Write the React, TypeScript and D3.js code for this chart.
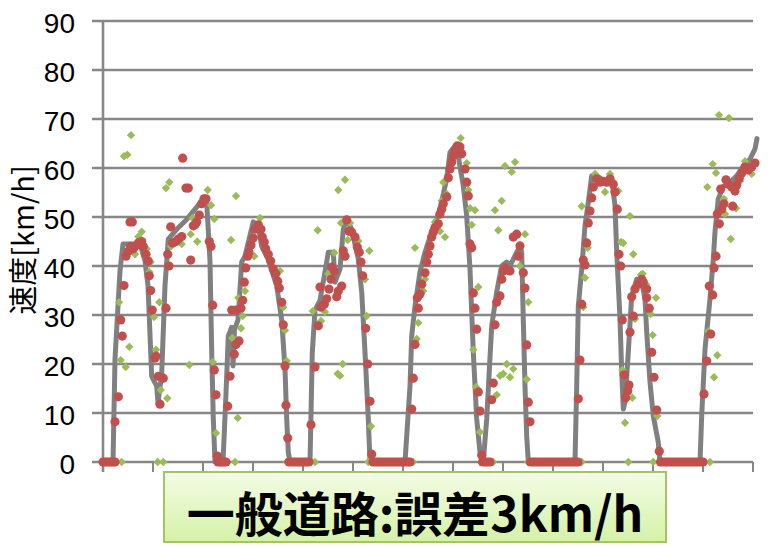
import React from 'react';
import * as d3 from 'd3';

// ---------------- data ----------------
const yTicks = [0, 10, 20, 30, 40, 50, 60, 70, 80, 90];
const xTicks = [0, 50, 100, 150, 200, 250, 300, 350, 400, 450, 500, 550, 600, 650];
const yAxisTitle = '速度[km/h]';
const captionText = '一般道路:誤差3km/h';

// true speed (gray line): [time, km/h]
const truthSpeed: [number, number][] = [
  [0, 0], [10, 0], [12, 21], [17, 39], [20, 44.5], [37, 44.5], [42, 41], [45, 36], [48.7, 17.5],
  [53.7, 15.5], [55, 12], [58.7, 18], [62, 36], [65.3, 45.5], [73.7, 47.5], [83.7, 49.5], [93.7, 52],
  [100, 53.7], [103.7, 53], [107, 41], [108.7, 22.5], [110.3, 8.8], [112, 0], [120, 0], [123, 14],
  [125.3, 25.7], [128.7, 27.5], [130, 19.6], [131.5, 27], [135, 29], [138.7, 40.8], [142, 42],
  [150.3, 49], [155.3, 48], [158.7, 44], [165, 41.4], [173.7, 36], [178.7, 29], [182, 19], [183.7, 8.8],
  [185.3, 2], [187, 0], [207, 0], [209.3, 22.4], [212, 31], [217, 33], [222, 38.8], [225.3, 42.8],
  [230.3, 42.8], [232, 36.7], [237, 39.4], [240.3, 47.5], [243.7, 49.6], [248.7, 47.5], [255.3, 41.4],
  [258.7, 34.7], [262, 22.4], [265.3, 8.8], [267, 0], [302, 0], [307, 15.5], [308.7, 25.7], [312, 31.8],
  [317, 38.8], [322, 42.8], [328.7, 47], [337, 51.6], [343.7, 57.8], [347, 63.2], [352, 64.5],
  [355.3, 62.4], [360.3, 56.3], [363.7, 50.2], [367, 39.4], [370.3, 22.4], [373.7, 8.8], [377, 2],
  [380.3, 0], [383.7, 8.8], [388.7, 27.8], [393.7, 34.7], [398.7, 40], [403.7, 40.8], [407, 40],
  [413.7, 42.8], [417, 44], [418.7, 42.8], [420.3, 29], [422, 15.5], [423.7, 5.3], [425.3, 0], [472, 0],
  [473.7, 15.5], [475.3, 31.8], [478.7, 39.4], [482, 48.2], [485.3, 53], [488.7, 58.4], [495.3, 58.2],
  [502, 57.3], [508.7, 57.8], [512, 52.3], [513.7, 42.8], [517, 29.2], [518.7, 18.4], [520.3, 10.8],
  [522, 12.2], [525.3, 22.4], [528.7, 33.9], [533.7, 37.3], [538.7, 36.7], [542, 33.3], [543.7, 26.5],
  [547, 16.3], [550.3, 9.4], [555.3, 4], [557, 0], [597, 0], [598.7, 9.4], [602, 23], [607, 33.3],
  [610.3, 41.4], [612, 47], [615.3, 53.7], [620.3, 56.3], [627, 57], [633.7, 58.4], [640.3, 60.4],
  [647, 61.8], [652, 63.9], [654, 66],
];

// estimate A (red circles): [time, km/h]
const redEstimate: [number, number][] = [
  [0, 0], [2, 0], [4, 0], [6, 0], [8, 0], [10, 0], [12, 0],
  [12, 8.2], [15.3, 13.3], [17.7, 29], [19.3, 25.7], [21, 36], [23, 42], [25.3, 43], [27.7, 44],
  [30.3, 43.5], [32, 44], [35.3, 44.7], [38.7, 45], [40.3, 44], [27, 49], [29.3, 49], [43, 42.4],
  [45.3, 41], [46.3, 38], [47.7, 35], [49.3, 31], [52, 21.2], [53, 21.6], [55.3, 17.5], [60.3, 17.1],
  [57, 11.8], [63, 31.4], [66, 40], [64.7, 42.4], [67.7, 48], [69.7, 44.7], [73, 45], [75.3, 45.5],
  [78.7, 46], [87.7, 41.2], [90.3, 48.2], [92, 48.4], [93.7, 49], [96.3, 50.4], [98.7, 52.7],
  [101, 53.7], [103, 53.7], [79.7, 62], [83, 55.9], [85.3, 55.9], [106.3, 45], [108, 44], [109.7, 32],
  [111.3, 18.8], [113, 13.7], [114.3, 1.2],
  [115, 0], [117, 0], [119, 0], [121, 0], [123, 0],
  [124.7, 11.4], [127, 17.5], [131.3, 22], [133, 24], [136, 24.7], [128.7, 31], [133, 31], [138, 31.4],
  [139.7, 33], [141.3, 36.7], [142.7, 39.6], [144.7, 42], [146, 42.8], [148, 44.3], [150.3, 45.7],
  [152, 47.5], [155.3, 48.4], [158, 47.5], [159.3, 45.9], [161.3, 44.9], [162.7, 43.5], [165.3, 42.4],
  [167.7, 41], [170.3, 39.4], [172.7, 38.4], [174.7, 36.9], [176.3, 35.5], [178.7, 32.6], [180.3, 28],
  [182, 19.6], [183, 11.6], [184.7, 4.9],
  [186, 0], [188.5, 0], [191, 0], [193.5, 0], [196, 0], [198.5, 0], [201, 0], [203.5, 0], [206, 0],
  [208, 7.6], [212, 19.4], [215.3, 27.8], [218, 31.6], [221.3, 32.2], [217, 35.7], [223.7, 33.3],
  [226, 35.3], [228, 37.3], [231.3, 39], [228.7, 39.8], [233.7, 33.7], [235.3, 34.9], [238.7, 35.9],
  [240.3, 43.1], [242, 42], [243.7, 49.4], [246, 47.1], [248.7, 46.9], [252, 45.9], [254.3, 43.9],
  [256.3, 42.8], [258, 40.8], [259.7, 38], [262.7, 27.3], [264.7, 20], [267, 12.4], [268.7, 1.6],
  [270, 0], [272.5, 0], [275, 0], [277.5, 0], [280, 0], [282.5, 0], [285, 0], [287.5, 0], [290, 0],
  [292.5, 0], [295, 0], [297.5, 0], [300, 0], [302.5, 0], [305, 0], [307, 0],
  [308.7, 10.8], [310.3, 17.1], [312, 24], [315.3, 31.4], [314.3, 33.5], [317, 34.3], [318.7, 36.3],
  [322, 38.6], [323.7, 40.8], [325.3, 42.4], [327, 44.1], [328.7, 45.9], [330.3, 46.9], [332, 47.8],
  [335.3, 48.6], [337, 50.6], [338.7, 51.6], [340.3, 52.7], [343.7, 54.1], [345.3, 58], [347, 59.8],
  [348.7, 61.2], [350.3, 62.5], [352, 63.5], [354.3, 64.5], [357, 64.3], [358.7, 62.9], [362, 59.8],
  [363.7, 57.1], [365.3, 54.3], [367, 44.5], [368.7, 43.7], [370.3, 34.5], [372, 31.4], [373.7, 27.1],
  [375.3, 14.3], [377, 10.4], [378.7, 1.4],
  [379.5, 0], [382, 0], [384.5, 0], [387, 0],
  [388.7, 12.7], [390.3, 16.1], [392, 28], [393.7, 32.6], [397, 33.9], [398.7, 37.3], [400.3, 39],
  [402, 39.6], [407, 39], [410.3, 45.9], [413.7, 46.5], [417, 44.1], [415.3, 42], [420.3, 38.6],
  [422, 35.5], [423.7, 23.9], [425.3, 12.2], [427, 8.2],
  [427.5, 0], [430, 0], [432.5, 0], [435, 0], [437.5, 0], [440, 0], [442.5, 0], [445, 0], [447.5, 0],
  [450, 0], [452.5, 0], [455, 0], [457.5, 0], [460, 0], [462.5, 0], [465, 0], [467.5, 0], [470, 0],
  [472.5, 0], [475, 0],
  [475.3, 12.9], [477, 20.8], [478.7, 32.2], [482, 40.2], [480.3, 41.2], [483.7, 44.7], [485.3, 48.8],
  [487, 51.2], [488.7, 53.9], [490.3, 56.1], [493.7, 57.8], [497, 57.1], [500.3, 57.3], [503.7, 57.1],
  [507, 57.8], [510.3, 56.7], [512, 55.1], [514.3, 51.6], [516, 42.4], [517.7, 40], [519.3, 29],
  [521.3, 17.8], [526, 15.7], [524.7, 14.5], [522.7, 13.1], [527, 26.5], [530.3, 29.8], [528.7, 33.7],
  [532, 35.3], [535.3, 36.3], [538.7, 37.3], [540.3, 36.7], [543.7, 35.3], [543.7, 33.5], [546.3, 31.4],
  [548.7, 22.4], [551, 17.3], [553.7, 10.6], [556.3, 2.2],
  [557.5, 0], [560, 0], [562.5, 0], [565, 0], [567.5, 0], [570, 0], [572.5, 0], [575, 0], [577.5, 0],
  [580, 0], [582.5, 0], [585, 0], [587.5, 0], [590, 0], [592.5, 0], [595, 0], [597.5, 0], [600, 0],
  [601, 13.9], [603.7, 20.6], [607.7, 26.1], [609.7, 34.1], [606.3, 35.9], [611, 39.6], [613, 42],
  [616.3, 48.6], [614.3, 50.6], [618.7, 51.6], [621, 52.7], [629.7, 52.2], [617.7, 55.7], [623, 57.6],
  [625.3, 56.7], [628.7, 56.1], [632, 55.3], [633.7, 56.5], [636.3, 57.9], [638.7, 59], [642, 60.2],
  [645.3, 59.6], [648.7, 60.2], [652, 61],
];

// estimate B (green diamonds): [time, km/h]
const greenEstimate: [number, number][] = [
  [28, 66.7], [21, 62.4], [24.3, 62.7], [66.3, 57.1], [63, 55.9], [104.7, 55.5], [108, 52.4],
  [111.3, 49.6], [38.7, 47], [35.3, 46], [32, 42.4], [43.7, 43.5], [47.7, 40.8], [46.3, 38.8],
  [89.7, 49.8], [87.7, 46.5], [94.3, 45], [68, 44], [78.7, 44.5], [16, 32.6], [56.3, 32.6], [51, 29.6],
  [26.3, 23.5], [17.7, 20.8], [22.7, 19.4], [53, 22.9], [57.7, 14.7], [64.3, 13], [86.3, 19.8],
  [109.7, 20.4], [113, 5.9], [18.7, 0], [54.7, 0], [60.3, 0],
  [132, 0], [133, 54.3], [128, 45.3], [157, 49.8], [148, 44], [151.3, 42], [142, 34.9], [135.3, 33.5],
  [139.7, 29.8], [138, 27.3], [129.3, 25.3], [134.7, 9], [177, 39], [180.3, 31.6], [182, 26.9],
  [183.7, 20.6], [184, 0], [212, 0], [214.7, 47.3], [209.7, 30.8], [218, 28.8], [222, 30.6],
  [225.3, 38.4], [231.3, 42.7], [235.3, 55.5], [242, 57.6], [238, 48.8], [247, 48.8], [244.7, 45.3],
  [255.3, 45.1], [266.3, 43.1], [262, 37.3], [263.7, 29.8], [234.7, 18], [237, 17.6], [239.7, 20],
  [268, 7.3], [265.3, 0], [310, 0],
  [312, 43.7], [315.3, 28.4], [313.7, 25.1], [320.3, 34.9], [322, 37.3], [332, 49], [337, 47.1],
  [342, 45.9], [340.3, 57.1], [343.7, 54.7], [338.7, 53.3], [357.7, 66.1], [363.7, 61], [365.3, 55.5],
  [367, 51.8], [372, 51.4], [368.7, 48.4], [375.3, 35.7], [370.3, 22.9], [373, 15.3], [377, 6.1],
  [387, 0], [390, 0], [393.7, 13.7], [397, 17.6], [400.3, 18], [403.7, 20], [407, 17.3], [410.3, 19],
  [398.7, 53.3], [392, 51.4], [395.3, 47.3], [402, 60.4], [408.7, 59.2], [412, 61.2],
  [423.7, 16.9], [425.3, 32.6], [417, 40], [422, 46.5], [425, 0], [478.7, 0], [525.3, 0],
  [480.3, 31.6], [482, 37.6], [484.7, 43.7], [478.7, 52.2], [502, 55.1], [515.3, 55.3], [492, 58.8],
  [507, 58.8], [527, 50.2], [518, 44.9], [520.3, 44.7], [530.3, 42.4], [519.3, 18.8], [529.3, 13.1],
  [522, 8], [532, 29.2], [538, 38.2],
  [539.7, 38.4], [543, 36.3], [553, 33.5], [547.7, 30.2], [549.7, 25.9], [554.3, 9.4], [550.3, 0],
  [607, 0], [605.3, 26.7], [614.3, 21.8], [611, 17.3], [627.7, 45.5], [622, 50.6], [633, 51.8],
  [621, 53.7], [604.3, 56.1], [613, 59], [609.7, 60.8], [616, 70.8], [626, 70.2], [642, 61.4],
  [648.7, 58.8], [637, 57.3],
];

// ---------------- chart ----------------
const W = 769;
const H = 548;
const plotLeft = 103;
const plotRight = 753;
const plotTop = 21;
const plotBottom = 462;

export default function App() {
  const x = d3.scaleLinear().domain([0, 650]).range([plotLeft, plotRight]);
  const y = d3.scaleLinear().domain([0, 90]).range([plotBottom, plotTop]);

  const line = d3
    .line<[number, number]>()
    .x((d) => x(d[0]))
    .y((d) => y(d[1]))
    .curve(d3.curveLinear);

  const grid = '#878787';
  const dr = 4.2;
  const diamond = `M0,${-dr}L${dr},0L0,${dr}L${-dr},0Z`;

  return (
    <svg
      width={W}
      height={H}
      viewBox={`0 0 ${W} ${H}`}
      style={{ position: 'absolute', left: 0, top: 0, background: '#fff' }}
    >
      <defs>
        <linearGradient id="capGrad" x1="0" y1="0" x2="0" y2="1">
          <stop offset="0%" stopColor="#f3fce6" />
          <stop offset="100%" stopColor="#d5f2a6" />
        </linearGradient>
      </defs>

      {/* horizontal gridlines */}
      {yTicks.map((t) => (
        <line
          key={'g' + t}
          x1={plotLeft - 11}
          x2={plotRight}
          y1={y(t)}
          y2={y(t)}
          stroke={grid}
          strokeWidth={2.6}
        />
      ))}
      {/* y axis line */}
      <line x1={plotLeft} x2={plotLeft} y1={plotTop} y2={plotBottom + 10} stroke={grid} strokeWidth={2.6} />
      {/* x ticks */}
      {xTicks.map((t) => (
        <line
          key={'xt' + t}
          x1={x(t)}
          x2={x(t)}
          y1={plotBottom}
          y2={plotBottom + 10}
          stroke={grid}
          strokeWidth={2}
        />
      ))}

      {/* y tick labels */}
      {yTicks.map((t) => (
        <text
          key={'yl' + t}
          x={75}
          y={y(t) + 12}
          textAnchor="end"
          fontFamily="'Liberation Sans', Arial, sans-serif"
          fontSize={28}
          fill="#000"
        >
          {t}
        </text>
      ))}

      {/* y axis title */}
      <text
        transform={`translate(34, 240) rotate(-90)`}
        textAnchor="middle"
        fontFamily="'Noto Sans CJK JP', sans-serif"
        fontSize={29}
        fill="#000"
      >
        {yAxisTitle}
      </text>

      {/* true speed line */}
      <path
        d={line(truthSpeed) || ''}
        fill="none"
        stroke="#808080"
        strokeWidth={5}
        strokeLinejoin="round"
        strokeLinecap="round"
      />

      {/* green diamonds */}
      {greenEstimate.map((d, i) => (
        <path key={'gd' + i} d={diamond} transform={`translate(${x(d[0])},${y(d[1])})`} fill="#9bbb59" />
      ))}

      {/* red circles */}
      {redEstimate.map((d, i) => (
        <circle key={'rc' + i} cx={x(d[0])} cy={y(d[1])} r={4.6} fill="#c0504d" />
      ))}

      {/* caption box */}
      <rect x={164} y={472} width={502} height={70} fill="url(#capGrad)" stroke="#a3c460" strokeWidth={2} />
      <text
        x={415}
        y={532}
        textAnchor="middle"
        fontFamily="'Noto Sans CJK JP', sans-serif"
        fontWeight="bold"
        fontSize={48}
        fill="#000"
      >
        {captionText}
      </text>
    </svg>
  );
}
